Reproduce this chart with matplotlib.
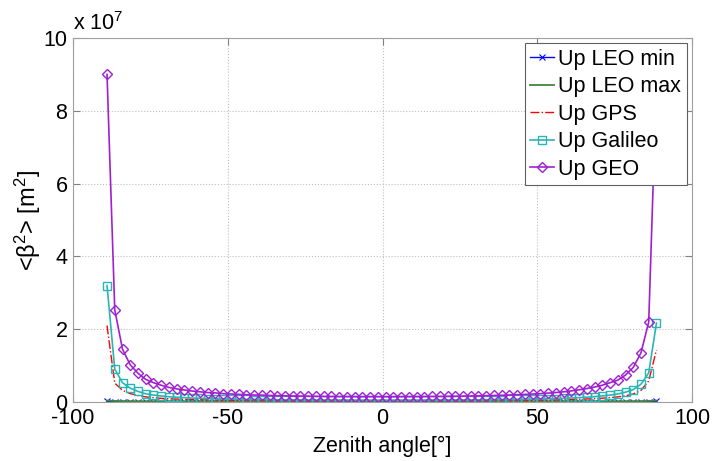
import matplotlib
matplotlib.use("Agg")
import matplotlib.pyplot as plt

plt.rcParams['font.family'] = ['Liberation Sans', 'DejaVu Sans']
plt.rcParams['mathtext.fontset'] = 'custom'
plt.rcParams['mathtext.rm'] = 'Liberation Sans'
plt.rcParams['mathtext.it'] = 'Liberation Sans'
plt.rcParams['axes.unicode_minus'] = False

# zenith angle samples, degrees
zenith = [-89, -86.5, -84, -81.5, -79, -76.5, -74, -71.5, -69, -66.5,
          -64, -61.5, -59, -56.5, -54, -51.5, -49, -46.5, -44, -41.5,
          -39, -36.5, -34, -31.5, -29, -26.5, -24, -21.5, -19, -16.5,
          -14, -11.5, -9, -6.5, -4, -1.5, 1, 3.5, 6, 8.5,
          11, 13.5, 16, 18.5, 21, 23.5, 26, 28.5, 31, 33.5,
          36, 38.5, 41, 43.5, 46, 48.5, 51, 53.5, 56, 58.5,
          61, 63.5, 66, 68.5, 71, 73.5, 76, 78.5, 81, 83.5,
          86, 88.5]

# <beta^2> in units of 1e7 m^2
leo_min = [0.014, 0.012, 0.011, 0.011, 0.010, 0.010, 0.010, 0.010, 0.010, 0.010,
           0.010, 0.010, 0.010, 0.010, 0.010, 0.010, 0.010, 0.010, 0.010, 0.010,
           0.010, 0.010, 0.010, 0.010, 0.010, 0.010, 0.010, 0.010, 0.010, 0.010,
           0.010, 0.010, 0.010, 0.010, 0.010, 0.010, 0.010, 0.010, 0.010, 0.010,
           0.010, 0.010, 0.010, 0.010, 0.010, 0.010, 0.010, 0.010, 0.010, 0.010,
           0.010, 0.010, 0.010, 0.010, 0.010, 0.010, 0.010, 0.010, 0.010, 0.010,
           0.010, 0.010, 0.010, 0.010, 0.010, 0.010, 0.010, 0.010, 0.011, 0.011,
           0.012, 0.014]
leo_max = [0.040, 0.028, 0.024, 0.022, 0.021, 0.020, 0.020, 0.020, 0.020, 0.020,
           0.020, 0.020, 0.020, 0.020, 0.020, 0.020, 0.020, 0.020, 0.020, 0.020,
           0.020, 0.020, 0.020, 0.020, 0.020, 0.020, 0.020, 0.020, 0.020, 0.020,
           0.020, 0.020, 0.020, 0.020, 0.020, 0.020, 0.020, 0.020, 0.020, 0.020,
           0.020, 0.020, 0.020, 0.020, 0.020, 0.020, 0.020, 0.020, 0.020, 0.020,
           0.020, 0.020, 0.020, 0.020, 0.020, 0.020, 0.020, 0.020, 0.020, 0.020,
           0.020, 0.020, 0.020, 0.020, 0.020, 0.020, 0.020, 0.021, 0.022, 0.024,
           0.028, 0.040]
gps = [2.1, 0.52, 0.32, 0.23, 0.18, 0.14, 0.12, 0.10, 0.09, 0.08,
       0.074, 0.067, 0.062, 0.058, 0.055, 0.051, 0.049, 0.047, 0.045, 0.043,
       0.042, 0.040, 0.039, 0.038, 0.037, 0.036, 0.035, 0.035, 0.034, 0.034,
       0.033, 0.033, 0.033, 0.032, 0.032, 0.032, 0.032, 0.032, 0.033, 0.033,
       0.033, 0.033, 0.034, 0.034, 0.035, 0.035, 0.036, 0.037, 0.038, 0.039,
       0.040, 0.041, 0.043, 0.045, 0.047, 0.049, 0.052, 0.055, 0.058, 0.063,
       0.068, 0.075, 0.083, 0.092, 0.104, 0.12, 0.14, 0.17, 0.22, 0.32,
       0.58, 1.43]
galileo = [3.2, 0.90, 0.53, 0.38, 0.29, 0.225, 0.19, 0.165, 0.145, 0.13,
           0.12, 0.108, 0.10, 0.094, 0.09, 0.083, 0.079, 0.076, 0.072, 0.068,
           0.068, 0.065, 0.063, 0.061, 0.060, 0.058, 0.057, 0.056, 0.055, 0.054,
           0.054, 0.053, 0.053, 0.053, 0.052, 0.052, 0.052, 0.052, 0.053, 0.053,
           0.053, 0.054, 0.054, 0.055, 0.056, 0.057, 0.058, 0.059, 0.061, 0.063,
           0.064, 0.067, 0.069, 0.072, 0.075, 0.079, 0.083, 0.088, 0.094, 0.10,
           0.11, 0.12, 0.133, 0.148, 0.166, 0.19, 0.22, 0.27, 0.34, 0.49,
           0.80, 2.17]
geo = [9.0, 2.53, 1.45, 1.02, 0.79, 0.62, 0.53, 0.46, 0.40, 0.36,
       0.33, 0.30, 0.28, 0.26, 0.25, 0.23, 0.22, 0.21, 0.20, 0.19,
       0.19, 0.18, 0.175, 0.17, 0.166, 0.162, 0.159, 0.156, 0.153, 0.151,
       0.149, 0.148, 0.147, 0.146, 0.145, 0.145, 0.145, 0.145, 0.146, 0.147,
       0.148, 0.149, 0.151, 0.153, 0.155, 0.158, 0.161, 0.165, 0.169, 0.174,
       0.179, 0.185, 0.192, 0.200, 0.209, 0.219, 0.23, 0.245, 0.26, 0.28,
       0.305, 0.335, 0.37, 0.41, 0.46, 0.53, 0.60, 0.74, 0.95, 1.35,
       2.2, 8.8]

fig = plt.figure(figsize=(7.12, 4.61), dpi=100)
ax = fig.add_axes([0.1025, 0.128, 0.8695, 0.7895])

ax.plot(zenith, leo_min, color='#0000ff', marker='x', ms=5, mew=0.8, lw=1, label='Up LEO min')
ax.plot(zenith, leo_max, color='#3f873f', lw=1.3, label='Up LEO max')
ax.plot(zenith, gps, color='#ff0000', ls='-.', lw=1, label='Up GPS')
ax.plot(zenith, galileo, color='#2ab5b5', marker='s', ms=6, mfc='none', mew=1, lw=1.2,
        label='Up Galileo')
ax.plot(zenith, geo, color='#a020d0', marker='D', ms=5.5, mfc='none', mew=1, lw=1.2,
        label='Up GEO')

ax.set_xlim(-100, 100)
ax.set_ylim(0, 10)
ax.set_xticks([-100, -50, 0, 50, 100])
ax.set_yticks([0, 2, 4, 6, 8, 10])
ax.grid(True, ls=':', color='#c0c0c0', lw=0.8)
ax.tick_params(direction='in', top=True, right=True, labelsize=15.5, length=5,
               color='#808080', pad=4)
for s in ax.spines.values():
    s.set_color('#a0a0a0')

ax.set_xlabel('Zenith angle[°]', fontsize=15.5, labelpad=5)
ax.set_ylabel('<β$^2$> [m$^2$]', fontsize=17, labelpad=0)
ax.text(0.0, 1.008, 'x 10$^7$', transform=ax.transAxes, fontsize=15.5,
        ha='left', va='bottom')

leg = ax.legend(loc='upper right', fontsize=15.5, frameon=True, fancybox=False,
                framealpha=1, edgecolor='#606060', handlelength=1.1,
                handletextpad=0.2, labelspacing=0.3, borderpad=0.25,
                borderaxespad=0.25)
leg.get_frame().set_linewidth(0.8)

fig.savefig('out.png', dpi=100)
